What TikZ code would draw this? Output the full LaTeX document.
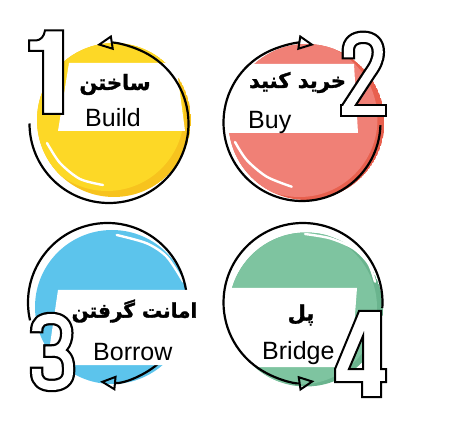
\documentclass[tikz,border=0pt]{standalone}
\usepackage{fontspec}
\setmainfont{Liberation Sans}
\newfontfamily\arabicfont[Script=Arabic, FakeBold=1.6]{DejaVu Sans Bold}
\TeXXeTstate=1
\usetikzlibrary{arrows.meta}
\definecolor{ylight}{RGB}{253,216,38}
\definecolor{ydark}{RGB}{247,195,30}
\definecolor{rlight}{RGB}{240,128,118}
\definecolor{rdark}{RGB}{232,96,78}
\definecolor{blight}{RGB}{92,196,236}
\definecolor{glight}{RGB}{126,196,160}
\definecolor{gdark}{RGB}{106,180,142}
\tikzset{
  ring/.style={draw=black, line width=2.2pt, arrows={-{Triangle[open, length=16pt, width=15pt, line width=2pt]}}},
  hilite/.style={draw=white, line width=2.4pt, line cap=round},
  band/.style={fill=white},
  digout/.style={draw=black, line width=13.5pt, line join=round},
  digin/.style={draw=white, line width=9pt, line join=round},
  digpoly/.style={fill=white, draw=black, line width=2pt, line join=miter},
  lat/.style={font=\fontsize{25}{28}\selectfont, anchor=base west, inner sep=0pt},
  arab/.style={font=\arabicfont\fontsize{21}{24}\selectfont, inner sep=0pt}
}
\begin{document}
\begin{tikzpicture}[x=1pt,y=-1pt]
\useasboundingbox (0,0) rectangle (452,427);
% ---------- panel 1 (yellow) ----------
\begin{scope}
  \clip (114,120) circle (77);
  \fill[ydark] (114,120) circle (77);
  \fill[ylight] (107,114) circle (77);
\end{scope}
\draw[hilite] plot[smooth] coordinates {(47,143) (60,163) (80,179) (103,185)};
\fill[band] (69,63) -- (176,63) -- (185,131) -- (58,131) -- cycle;
\draw[ring] (109,123.5) ++(180:79.5) arc[start angle=180, end angle=-98.7, radius=79.5];
\filldraw[digpoly] (45,30.5) -- (63,30.5) -- (63,114) -- (43,114) -- (43,51) -- (29,51) -- (29,40.5) -- (36,40.5) .. controls (41,40) and (44,36.5) .. (45,30.5) -- cycle;
\node[arab] (t1ar) at (115,84.5) {\beginR ساختن\endR};
\node[lat] (t1en) at (85,126.5) {Build};
% ---------- panel 2 (red) ----------
\begin{scope}
  \clip (306.5,122) circle (78);
  \fill[rdark] (306.5,122) circle (78);
  \fill[rlight] (299.5,119) circle (78);
\end{scope}
\draw[hilite] plot[smooth] coordinates {(235,142) (246.7,160) (266.7,176.7) (291.7,186.7)};
\fill[band] (224,64) -- (354,64) -- (358,133) -- (224,133) -- cycle;
\draw[ring] (302,122.5) ++(2:78.5) arc[start angle=2, end angle=278.9, radius=78.5];
\draw[digout] (348.3,59.5) -- (348.3,51) .. controls (348.3,42) and (354,37.3) .. (363.3,37.3) .. controls (373,37.3) and (378.3,43) .. (378.3,52) .. controls (378.3,60) and (375,66) .. (370,73) -- (346.5,109);
\draw[digout] (340,110.5) -- (386.7,110.5);
\draw[digin, shorten <=2.2pt] (348.3,59.5) -- (348.3,51) .. controls (348.3,42) and (354,37.3) .. (363.3,37.3) .. controls (373,37.3) and (378.3,43) .. (378.3,52) .. controls (378.3,60) and (375,66) .. (370,73) -- (346.5,109);
\draw[digin, shorten <=2.2pt, shorten >=2.2pt] (340,110.5) -- (386.7,110.5);
\node[arab] (t2ar) at (297.5,82.5) {\beginR خرید کنید\endR};
\node[lat] (t2en) at (248,129) {Buy};
% ---------- panel 3 (blue) ----------
\fill[blight] (112,307) circle (77);
\draw[hilite] plot[smooth] coordinates {(116.7,235) (146.7,243.3) (166.7,256.7) (183.3,281.7)};
\draw[ring] (107.5,302.5) ++(167:79.5) arc[start angle=167, end angle=455.4, radius=79.5];
\fill[band] (58,290) -- (193,290) -- (193,365) -- (47,365) -- cycle;
\draw[digout] (36.7,333.3) -- (36.7,331) .. controls (36.7,322) and (42,318.5) .. (51.5,318.5) .. controls (61,318.5) and (66.8,324) .. (66.8,333) .. controls (66.8,344) and (61,351) .. (52,351) -- (43.3,351);
\draw[digout] (43.3,351) -- (52,351) .. controls (63,351) and (68.5,357) .. (68.5,367) -- (68.5,372) .. controls (68.5,381) and (62,385.5) .. (51.5,385.5) .. controls (42,385.5) and (36.7,381) .. (36.7,373) -- (36.7,366.7);
\draw[digin, shorten <=2.2pt, shorten >=2.2pt] (36.7,333.3) -- (36.7,331) .. controls (36.7,322) and (42,318.5) .. (51.5,318.5) .. controls (61,318.5) and (66.8,324) .. (66.8,333) .. controls (66.8,344) and (61,351) .. (52,351) -- (43.3,351);
\draw[digin, shorten <=2.2pt, shorten >=2.2pt] (43.3,351) -- (52,351) .. controls (63,351) and (68.5,357) .. (68.5,367) -- (68.5,372) .. controls (68.5,381) and (62,385.5) .. (51.5,385.5) .. controls (42,385.5) and (36.7,381) .. (36.7,373) -- (36.7,366.7);
\node[arab, font=\arabicfont\fontsize{20}{24}\selectfont] (t3ar) at (134.5,311) {\beginR امانت گرفتن\endR};
\node[lat] (t3en) at (93,360) {Borrow};
% ---------- panel 4 (green) ----------
\begin{scope}
  \clip (306,309.5) circle (77);
  \fill[gdark] (306,309.5) circle (77);
  \fill[glight] (300,307.5) circle (77);
\end{scope}
\draw[hilite] plot[smooth] coordinates {(305,234) (330,238.3) (353.3,248.3) (368.3,263.3) (375,281.7)};
\fill[band] (222,288) -- (357,288) -- (351,367) -- (222,367) -- cycle;
\draw[ring] (303,302.5) ++(4:79.5) arc[start angle=4, end angle=-278.3, radius=79.5];
\filldraw[digpoly, even odd rule] (359,311) -- (381,311) -- (381,369) -- (386,369) -- (386,382) -- (381,382) -- (381,397) -- (362,397) -- (362,382) -- (335,382) -- (335,369) -- cycle
  (363,336) -- (363,369) -- (349,369) -- cycle;
\node[arab] (t4ar) at (301,315) {\beginR پل\endR};
\node[lat] (t4en) at (262,359) {Bridge};
\end{tikzpicture}
\end{document}
